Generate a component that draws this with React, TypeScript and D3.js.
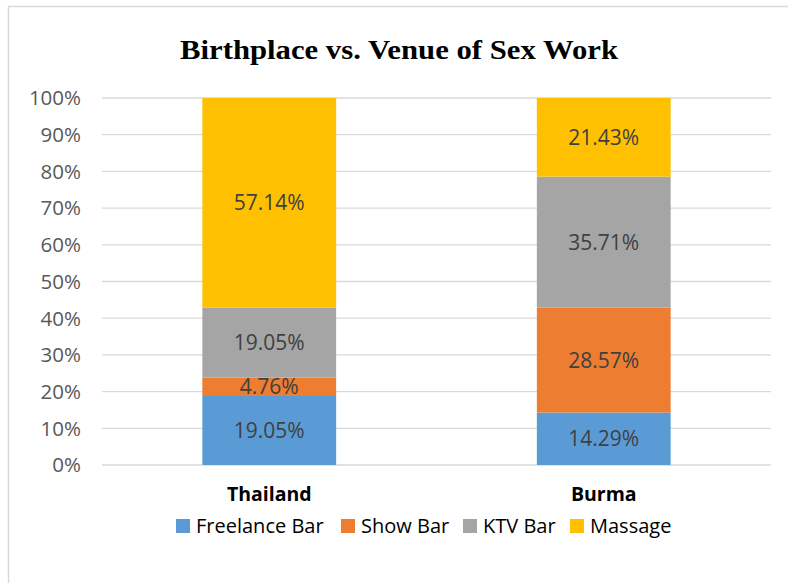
import React from "react";
import * as d3 from "d3";

const categories = ["Thailand", "Burma"];
const seriesNames = ["Freelance Bar", "Show Bar", "KTV Bar", "Massage"];
const seriesColors = ["#5B9BD5", "#ED7D31", "#A5A5A5", "#FFC000"];
const freelanceBar = [19.05, 14.29];
const showBar = [4.76, 28.57];
const ktvBar = [19.05, 35.71];
const massage = [57.14, 21.43];
const yTicks = [0, 10, 20, 30, 40, 50, 60, 70, 80, 90, 100];
const title = "Birthplace vs. Venue of Sex Work";

const W = 788, H = 583;
const plot = { left: 102, right: 771, top: 98, bottom: 465 };
const FONT = "'Open Sans', sans-serif";

export default function App() {
  const seriesValues = [freelanceBar, showBar, ktvBar, massage];
  const x = d3.scaleBand<string>().domain(categories).range([plot.left, plot.right]).paddingInner(0.6).paddingOuter(0.3);
  const y = d3.scaleLinear().domain([0, 100]).range([plot.bottom, plot.top]);
  const rows = categories.map((c, i) => {
    const r: any = { cat: c };
    seriesNames.forEach((s, j) => (r[s] = seriesValues[j][i]));
    return r;
  });
  const stack = d3.stack<any>().keys(seriesNames)(rows);

  const legendX = [176, 341, 463, 570];

  return (
    <svg width={W} height={H} style={{ position: "absolute", left: 0, top: 0, background: "#fff" }}>
      <rect x={8.5} y={6.5} width={900} height={700} fill="#fff" stroke="#d9d9d9" strokeWidth={1.5} />
      <text x={399} y={59} textAnchor="middle" fontFamily="'Liberation Serif', serif" fontWeight="bold" fontSize={27} textLength={438} lengthAdjust="spacingAndGlyphs" fill="#000">{title}</text>
      {yTicks.map((t) => (
        <g key={t}>
          <line x1={plot.left} x2={plot.right} y1={y(t)} y2={y(t)} stroke="#d9d9d9" strokeWidth={1.3} />
          <text x={81} y={y(t)} dy="0.36em" textAnchor="end" fontFamily={FONT} fontSize={20.5} fill="#595959">{d3.format(".0%")(t / 100)}</text>
        </g>
      ))}
      {stack.map((layer, j) => (
        <g key={layer.key}>
          {layer.map((d, i) => (
            <g key={i}>
              <rect x={x(categories[i])} width={x.bandwidth()} y={y(d[1])} height={y(d[0]) - y(d[1])} fill={seriesColors[j]} />
              <text x={(x(categories[i]) as number) + x.bandwidth() / 2} y={(y(d[0]) + y(d[1])) / 2} dy="0.36em" textAnchor="middle" fontFamily={FONT} fontSize={21} fill="#404040">
                {seriesValues[j][i].toFixed(2)}%
              </text>
            </g>
          ))}
        </g>
      ))}
      {categories.map((c) => (
        <text key={c} x={(x(c) as number) + x.bandwidth() / 2} y={501} textAnchor="middle" fontFamily={FONT} fontWeight="bold" fontSize={19.5} fill="#000">{c}</text>
      ))}
      {seriesNames.map((s, j) => (
        <g key={s}>
          <rect x={legendX[j]} y={519} width={14} height={14} fill={seriesColors[j]} />
          <text x={legendX[j] + 20} y={533} fontFamily={FONT} fontSize={20} fill="#000">{s}</text>
        </g>
      ))}
    </svg>
  );
}
